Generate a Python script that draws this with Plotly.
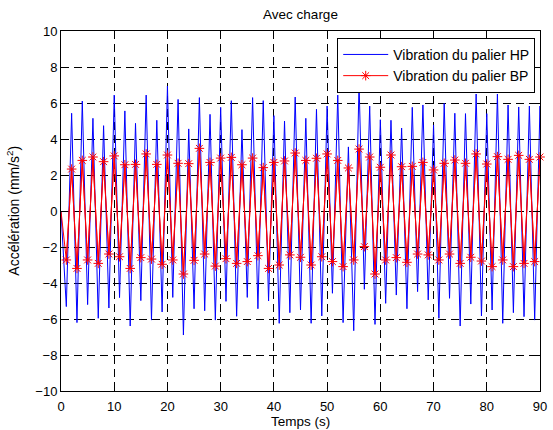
import plotly.graph_objects as go

# Sampling instants (s); the last sample lies just past the visible window
temps = list(range(0, 92))

# Bearing acceleration signals (mm/s^2)
palier_hp = [
    0.00, -5.31, 5.43, -6.20, 6.11, -5.20, 5.15, -5.96, 4.74, -5.39,
    6.44, -4.81, 5.56, -6.39, 4.87, -4.98, 6.44, -6.06, 5.04, -5.61,
    6.94, -4.80, 6.20, -6.89, 4.56, -5.43, 6.30, -5.54, 5.37, -6.06,
    5.76, -5.02, 6.13, -5.85, 4.52, -4.80, 6.30, -5.43, 6.13, -5.00,
    5.30, -6.24, 5.00, -5.65, 6.33, -5.50, 5.15, -6.24, 5.65, -5.83,
    5.83, -4.57, 6.44, -6.20, 3.56, -6.65, 7.09, -4.35, 5.83, -6.30,
    5.07, -5.13, 5.04, -4.67, 4.61, -5.43, 5.76, -4.48, 5.89, -4.94,
    4.78, -5.96, 5.98, -4.85, 5.43, -6.39, 5.41, -5.17, 6.50, -5.83,
    5.41, -5.50, 6.50, -6.24, 5.89, -5.65, 5.78, -5.87, 5.83, -6.06,
    5.83, -5.60,
]

palier_bp = [
    0.00, -2.72, 2.33, -3.19, 2.81, -2.72, 3.00, -2.91, 2.74, -2.39,
    3.06, -2.54, 2.57, -3.19, 2.59, -2.59, 3.17, -2.67, 2.59, -2.96,
    3.11, -2.72, 2.65, -3.50, 2.63, -2.74, 3.48, -2.39, 2.70, -3.06,
    2.94, -2.65, 2.98, -2.91, 2.57, -2.81, 2.94, -2.48, 2.41, -3.19,
    2.70, -3.00, 2.78, -2.44, 3.22, -2.57, 2.81, -3.00, 2.93, -2.54,
    3.17, -2.81, 2.81, -3.09, 2.39, -2.72, 3.44, -1.98, 3.00, -3.50,
    2.43, -2.72, 3.11, -2.59, 2.46, -2.85, 2.48, -2.39, 2.70, -2.44,
    2.28, -2.72, 2.65, -2.39, 2.83, -2.91, 2.65, -2.57, 3.17, -2.78,
    2.61, -3.09, 3.02, -2.72, 2.87, -3.09, 3.09, -2.91, 2.87, -2.81,
    3.00, -2.80,
]

x_ticks = [0, 10, 20, 30, 40, 50, 60, 70, 80, 90]
y_ticks = [-10, -8, -6, -4, -2, 0, 2, 4, 6, 8, 10]

BLUE = "#0000ff"
RED = "#ff0000"
FONT = "Liberation Sans, Arial, Helvetica, sans-serif"

fig = go.Figure()

fig.add_trace(go.Scatter(
    x=temps, y=palier_hp, mode="lines",
    line=dict(color=BLUE, width=1),
    name="Vibration du palier HP",
))

# Full red line (clipped by the axes), without markers
fig.add_trace(go.Scatter(
    x=temps, y=palier_bp, mode="lines",
    line=dict(color=RED, width=1),
    showlegend=False, hoverinfo="skip",
))

# Markers on the samples inside the window
fig.add_trace(go.Scatter(
    x=temps[1:91], y=palier_bp[1:91], mode="lines+markers",
    line=dict(color=RED, width=1),
    marker=dict(symbol="asterisk-open", size=8, color=RED,
                line=dict(color=RED, width=1)),
    cliponaxis=False,
    name="Vibration du palier BP",
))

axis_common = dict(
    showline=True, linecolor="black", linewidth=1, mirror="ticks",
    ticks="inside", ticklen=5, tickcolor="black", tickwidth=1,
    showgrid=True, gridcolor="black", gridwidth=1, griddash="8px,5px",
    zeroline=False, ticklabeloverflow="allow",
    tickfont=dict(family=FONT, size=13, color="black"),
)

fig.update_xaxes(range=[0, 90], tickvals=x_ticks, ticklabelstandoff=3,
                 **axis_common)
fig.update_yaxes(range=[-10, 10], tickvals=y_ticks, **axis_common)

fig.update_layout(
    width=553, height=430,
    margin=dict(l=61, r=6, t=31, b=39),
    plot_bgcolor="white", paper_bgcolor="white",
    font=dict(family=FONT, size=14, color="black"),
    title=dict(text="Avec charge", x=0.5, xref="paper",
               y=1 - 14 / 430, yref="container", yanchor="middle",
               font=dict(family=FONT, size=13.5, color="black")),
    legend=dict(x=0.99, xanchor="right", y=0.981, yanchor="top",
                bgcolor="white", bordercolor="black", borderwidth=1,
                font=dict(family=FONT, size=14, color="black"),
                itemwidth=45, tracegroupgap=0),
    annotations=[
        dict(text="Temps (s)", x=0.5, y=-30 / 360, xref="paper", yref="paper",
             xanchor="center", yanchor="middle", showarrow=False,
             font=dict(family=FONT, size=13.5, color="black")),
        dict(text="Accélération (mm/s<sup>2</sup>)", x=-49 / 486, y=0.5,
             xref="paper", yref="paper", textangle=-90,
             xanchor="center", yanchor="middle", showarrow=False,
             font=dict(family=FONT, size=14, color="black")),
    ],
)

fig.write_html("out.html")
